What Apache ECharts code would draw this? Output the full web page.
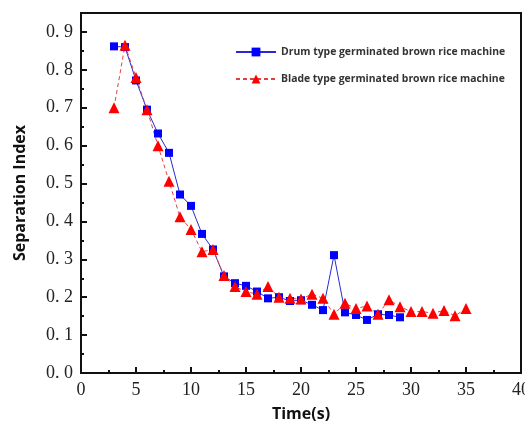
<!DOCTYPE html>
<html>
<head>
<meta charset="utf-8">
<script src="https://cdn.jsdelivr.net/npm/echarts@6/dist/echarts.min.js"></script>
<style>
  html, body { margin: 0; padding: 0; background: #fff; }
  #chart { width: 525px; height: 423px; }
</style>
</head>
<body>
<div id="chart"></div>
<script>
// Time (s) for each series
const drumTime = [3, 4, 5, 6, 7, 8, 9, 10, 11, 12, 13, 14, 15, 16, 17, 18, 19, 20, 21, 22, 23, 24, 25, 26, 27, 28, 29];
const drumIndex = [0.862, 0.86, 0.772, 0.695, 0.632, 0.581, 0.471, 0.441, 0.367, 0.326, 0.255, 0.237, 0.23, 0.215, 0.197, 0.2, 0.19, 0.192, 0.18, 0.166, 0.311, 0.16, 0.153, 0.14, 0.155, 0.153, 0.147];

const bladeTime = [3, 4, 5, 6, 7, 8, 9, 10, 11, 12, 13, 14, 15, 16, 17, 18, 19, 20, 21, 22, 23, 24, 25, 26, 27, 28, 29, 30, 31, 32, 33, 34, 35];
const bladeIndex = [0.70, 0.865, 0.78, 0.695, 0.60, 0.506, 0.412, 0.379, 0.32, 0.326, 0.257, 0.228, 0.215, 0.208, 0.228, 0.2, 0.197, 0.195, 0.208, 0.197, 0.155, 0.184, 0.17, 0.177, 0.155, 0.193, 0.175, 0.162, 0.162, 0.158, 0.165, 0.151, 0.17];

const xTicks = [0, 5, 10, 15, 20, 25, 30, 35, 40];

const chart = echarts.init(document.getElementById("chart"));

const tickFont = { fontFamily: "Liberation Serif", fontSize: 18, color: "#222" };

chart.setOption({
  animation: false,
  grid: {
    left: 81,
    right: 4,
    top: 13,
    bottom: 50,
    outerBoundsMode: "none",
    show: true,
    borderColor: "#111",
    borderWidth: 2,
  },
  legend: {
    top: 42,
    left: 230,
    orient: "vertical",
    itemGap: 17,
    itemWidth: 40,
    itemHeight: 11,
    textStyle: {
      fontFamily: "Open Sans",
      fontWeight: "bold",
      fontSize: 10.4,
      color: "#333",
    },
    data: ["Drum type germinated brown rice machine", "Blade type germinated brown rice machine"],
  },
  xAxis: {
    type: "value",
    min: 0,
    max: 40,
    interval: 5,
    name: "Time(s)",
    nameLocation: "middle",
    nameGap: 33,
    nameTextStyle: { fontFamily: "Open Sans", fontWeight: "bold", fontSize: 16, color: "#111" },
    axisLine: { show: true, lineStyle: { color: "#111", width: 2 } },
    axisTick: { show: true, inside: true, length: 6, lineStyle: { color: "#111", width: 2 } },
    minorTick: { show: true, splitNumber: 2, length: 3, lineStyle: { color: "#111", width: 2 } },
    axisLabel: {
      ...tickFont,
      margin: 8,
      formatter: (v) => (xTicks.includes(v) ? String(v) : ""),
    },
    splitLine: { show: false },
  },
  yAxis: {
    type: "value",
    min: 0,
    max: 0.95,
    interval: 0.1,
    name: "Separation Index",
    nameLocation: "middle",
    nameGap: 53,
    nameTextStyle: { fontFamily: "Open Sans", fontWeight: "bold", fontSize: 16, color: "#111" },
    axisLine: { show: true, lineStyle: { color: "#111", width: 2 } },
    axisTick: { show: true, inside: true, length: 6, lineStyle: { color: "#111", width: 2 } },
    minorTick: { show: true, splitNumber: 2, length: 3, lineStyle: { color: "#111", width: 2 } },
    axisLabel: {
      ...tickFont,
      margin: 8,
      formatter: (v) => (Math.abs(v * 10 - Math.round(v * 10)) < 1e-6 ? v.toFixed(1).replace(".", ". ") : ""),
    },
    splitLine: { show: false },
  },
  series: [
    {
      name: "Drum type germinated brown rice machine",
      type: "line",
      data: drumTime.map((t, i) => [t, drumIndex[i]]),
      symbol: "rect",
      symbolSize: 8,
      lineStyle: { color: "#2a2ad0", width: 1 },
      itemStyle: { color: "#0000ff" },
    },
    {
      name: "Blade type germinated brown rice machine",
      type: "line",
      data: bladeTime.map((t, i) => [t, bladeIndex[i]]),
      symbol: "triangle",
      symbolSize: 11,
      lineStyle: { color: "#e04040", width: 1, type: [4, 3] },
      itemStyle: { color: "#ff0000" },
    },
  ],
});
</script>
</body>
</html>
